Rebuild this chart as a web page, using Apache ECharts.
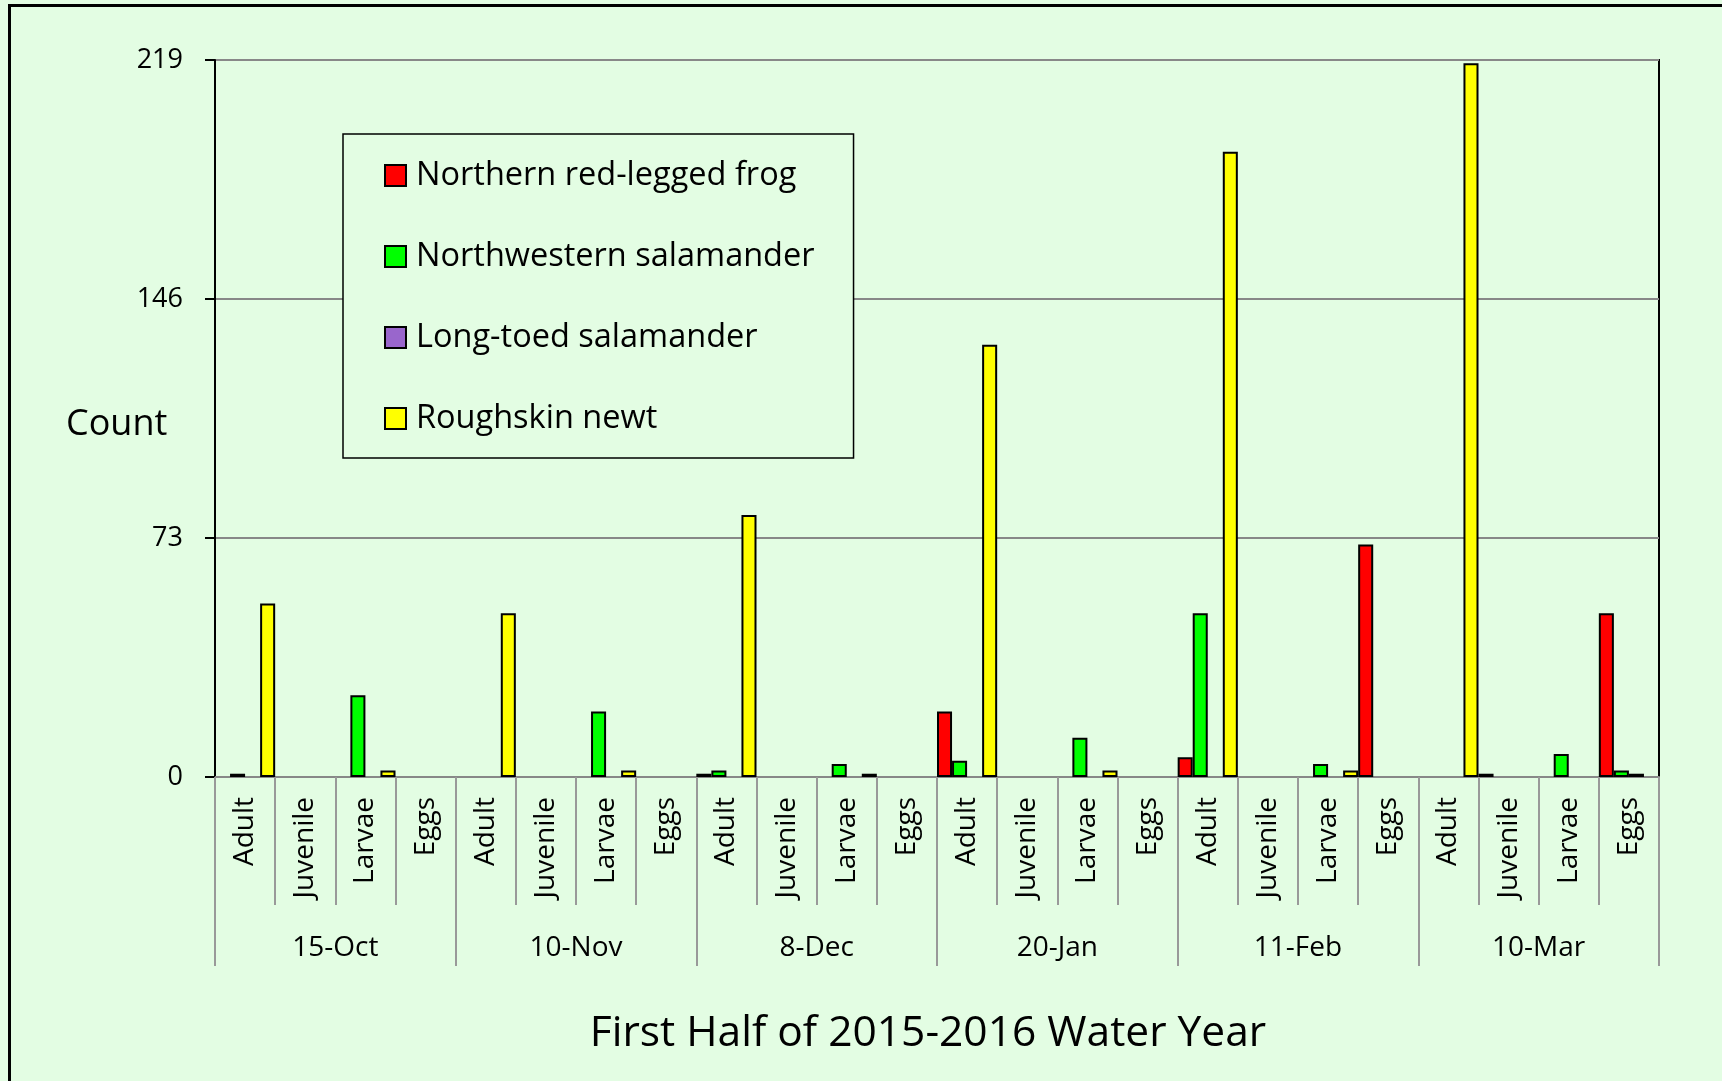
<!DOCTYPE html>
<html>
<head>
<meta charset="utf-8">
<script src="https://cdn.jsdelivr.net/npm/echarts@6/dist/echarts.min.js"></script>
<style>
  html, body { margin: 0; padding: 0; background: #e3fde3; }
  #chart { width: 1722px; height: 1081px; }
  #frame { position: absolute; left: 8px; top: 4px; width: 1800px; height: 1200px;
           border-left: 3px solid #000; border-top: 3px solid #000; pointer-events: none; }
</style>
</head>
<body>
<div id="chart"></div>
<div id="frame"></div>
<script>
// survey dates and life stages
var dates = ['15-Oct', '10-Nov', '8-Dec', '20-Jan', '11-Feb', '10-Mar']
var stages = ['Adult', 'Juvenile', 'Larvae', 'Eggs']
var yTicks = [0, 73, 146, 219]

// counts, 4 stages per date (Adult, Juvenile, Larvae, Eggs)
var redLeggedFrog = [0, 0, 0, 0,  0, 0, 0, 0,  1, 0, 0, 0,  20, 0, 0, 0,  6, 0, 0, 71,  0, 1, 0, 50]
var nwSalamander  = [1, 0, 25, 0, 0, 0, 20, 0, 2, 0, 4, 0,  5, 0, 12, 0,  50, 0, 4, 0,  0, 0, 7, 2]
var longToed      = [0, 0, 0, 0,  0, 0, 0, 0,  0, 0, 0, 0,  0, 0, 0, 0,   0, 0, 0, 0,   0, 0, 0, 1]
var roughskinNewt = [53, 0, 2, 0, 50, 0, 2, 0, 80, 0, 1, 0, 132, 0, 2, 0, 191, 0, 2, 0, 218, 0, 0, 0]

var seriesNames = ['Northern red-legged frog', 'Northwestern salamander', 'Long-toed salamander', 'Roughskin newt']
var seriesColors = ['#ff0000', '#00ff00', '#9966cc', '#ffff00']
var seriesData = [redLeggedFrog, nwSalamander, longToed, roughskinNewt]

var categories = []
dates.forEach(function (d) {
  stages.forEach(function (s) { categories.push(s) })
})

var font = '"Open Sans", "DejaVu Sans", sans-serif'

var myChart = echarts.init(document.getElementById('chart'))
var option = {
  backgroundColor: '#e3fde3',
  animation: false,
  textStyle: { fontFamily: font, color: '#000' },
  // y axis title sits beside the axis, a little below its middle
  title: {
    text: 'Count',
    left: 66,
    top: 407,
    padding: 0,
    textStyle: { fontFamily: font, fontSize: 36, lineHeight: 36, fontWeight: 'normal', color: '#000' }
  },
  grid: {
    left: 215,
    right: 63,
    top: 60,
    bottom: 304,
    show: true,
    borderColor: '#000',
    borderWidth: 2,
    backgroundColor: 'transparent'
  },
  legend: {
    orient: 'vertical',
    left: 343,
    top: 134,
    padding: [25, 39, 23, 41],
    itemGap: 48,
    itemWidth: 21,
    itemHeight: 21,
    icon: 'rect',
    backgroundColor: '#e3fde3',
    borderColor: '#000',
    borderWidth: 1.5,
    textStyle: { fontFamily: font, fontSize: 32.5, lineHeight: 32, color: '#000', padding: [0, 0, 0, 5] },
    data: seriesNames
  },
  xAxis: [
    {
      type: 'category',
      data: categories,
      position: 'bottom',
      axisLine: { show: true, lineStyle: { color: '#888', width: 2 } },
      axisTick: { show: true, interval: 0, length: 128, lineStyle: { color: '#999', width: 2 } },
      axisLabel: {
        interval: 0,
        rotate: 90,
        margin: 20,
        fontSize: 28,
        color: '#000',
        fontFamily: font
      },
      splitLine: { show: false }
    },
    {
      type: 'category',
      data: dates,
      position: 'bottom',
      offset: 0,
      axisLine: { show: false },
      axisTick: { show: true, interval: 0, length: 189, lineStyle: { color: '#999', width: 2 } },
      axisLabel: { interval: 0, margin: 157, fontSize: 28, color: '#000', fontFamily: font },
      name: 'First Half of 2015-2016 Water Year',
      nameLocation: 'middle',
      nameGap: 233,
      nameTextStyle: { fontSize: 42.5, color: '#000', fontFamily: font, padding: [2, 18, 0, 0] }
    }
  ],
  yAxis: {
    type: 'value',
    min: 0,
    max: 219,
    interval: 73,
    axisLine: { show: true, lineStyle: { color: '#000', width: 2 } },
    axisTick: { show: true, length: 10, lineStyle: { color: '#000', width: 2 } },
    axisLabel: {
      margin: 32,
      fontSize: 27,
      color: '#000',
      fontFamily: font,
      formatter: function (v) { return yTicks.indexOf(v) >= 0 ? String(v) : '' }
    },
    splitLine: { show: true, lineStyle: { color: '#888', width: 2 } }
  },
  series: seriesNames.map(function (name, i) {
    return {
      name: name,
      type: 'bar',
      xAxisIndex: 0,
      barGap: '0%',
      barCategoryGap: '0%',
      itemStyle: { color: seriesColors[i], borderColor: '#000', borderWidth: 2 },
      // zero counts have no bar
      data: seriesData[i].map(function (v) { return v === 0 ? '-' : v })
    }
  })
}

option && myChart.setOption(option)
</script>
</body>
</html>
